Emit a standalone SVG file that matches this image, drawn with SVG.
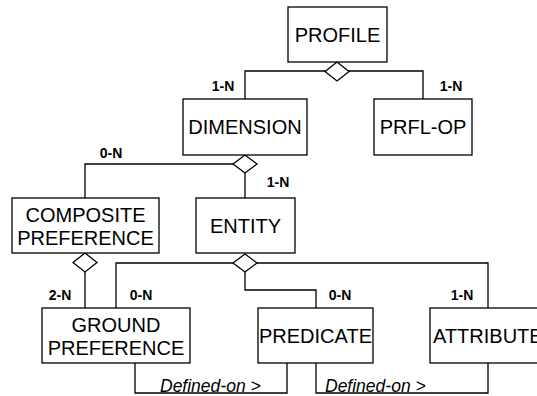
<svg xmlns="http://www.w3.org/2000/svg" width="537" height="396" viewBox="0 0 537 396">
<style>
.box{fill:#fff;stroke:#000;stroke-width:1.3}
.dia{fill:#fff;stroke:#000;stroke-width:1.3}
.ln{fill:none;stroke:#000;stroke-width:1.3}
.t{font-family:"Liberation Sans",Arial,sans-serif;font-size:20px;fill:#000;text-anchor:middle}
.c{font-family:"Liberation Sans",Arial,sans-serif;font-size:14px;font-weight:bold;fill:#000;text-anchor:middle}
.r{font-family:"Liberation Sans",Arial,sans-serif;font-size:17.5px;font-style:italic;fill:#000}
</style>
<rect width="537" height="396" fill="#fff"/>
<g id="connectors">
<path class="ln" d="M245,99 V71 H423 V99"/>
<path class="ln" d="M85,198 V164 H245 V198"/>
<path class="ln" d="M85,272 V308"/>
<path class="ln" d="M116,308 V263 H488 V308"/>
<path class="ln" d="M245,263 V290 H316 V308"/>
<path class="ln" d="M135,363 V393 H287 V363"/>
<path class="ln" d="M316,363 V393 H488 V363"/>
<polygon class="dia" points="337,62 349,71.5 337,81 325,71.5"/>
<polygon class="dia" points="245,155 257,164 245,173 233,164"/>
<polygon class="dia" points="85,253 97,262.5 85,272 73,262.5"/>
<polygon class="dia" points="245,254 257,263 245,272 233,263"/>
<text class="c" x="223" y="91">1-N</text>
<text class="c" x="451" y="91">1-N</text>
<text class="c" x="111" y="158">0-N</text>
<text class="c" x="278" y="187">1-N</text>
<text class="c" x="60" y="300">2-N</text>
<text class="c" x="141" y="300">0-N</text>
<text class="c" x="340" y="300">0-N</text>
<text class="c" x="462" y="300">1-N</text>
<text class="r" x="160" y="392">Defined-on &gt;</text>
<text class="r" x="325" y="392">Defined-on &gt;</text>
</g>
<g id="profile"><rect class="box" x="288" y="7" width="99" height="55"/><text class="t" x="337.5" y="42">PROFILE</text></g>
<g id="dimension"><rect class="box" x="183" y="99" width="124" height="56"/><text class="t" x="245" y="134">DIMENSION</text></g>
<g id="prfl-op"><rect class="box" x="374" y="99" width="98" height="56"/><text class="t" x="423" y="134">PRFL-OP</text></g>
<g id="composite"><rect class="box" x="12" y="198" width="147" height="55"/><text class="t" x="85.5" y="222">COMPOSITE</text><text class="t" x="85.5" y="245">PREFERENCE</text></g>
<g id="entity"><rect class="box" x="196" y="198" width="99" height="55"/><text class="t" x="245.5" y="233">ENTITY</text></g>
<g id="ground"><rect class="box" x="42" y="308" width="148" height="55"/><text class="t" x="116" y="332">GROUND</text><text class="t" x="116" y="355">PREFERENCE</text></g>
<g id="predicate"><rect class="box" x="258" y="308" width="115" height="55"/><text class="t" x="315.5" y="343">PREDICATE</text></g>
<g id="attribute"><rect class="box" x="430" y="308" width="130" height="55"/><text class="t" x="433" y="343" style="text-anchor:start">ATTRIBUTE</text></g>
</svg>
